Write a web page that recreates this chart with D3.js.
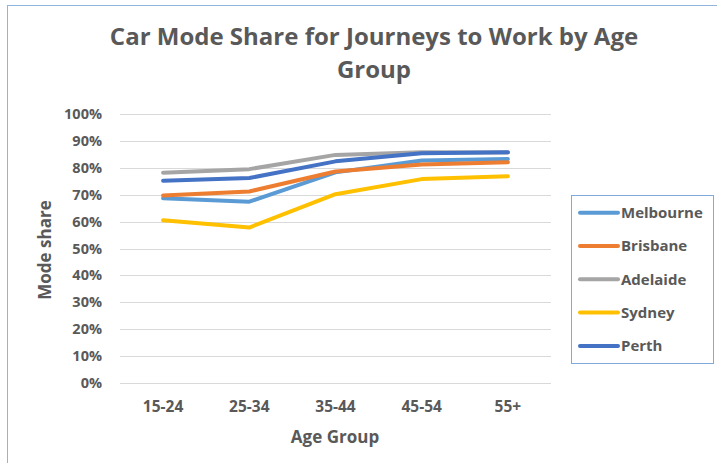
<!DOCTYPE html>
<html>
<head>
<meta charset="utf-8">
<script src="https://cdn.jsdelivr.net/npm/d3@7"></script>
<style>
  body { margin: 0; background: #fff; }
  text { font-family: 'Open Sans', sans-serif; font-weight: bold; fill: #595959; }
</style>
</head>
<body>
<script>
  const ageGroups = ['15-24', '25-34', '35-44', '45-54', '55+'];
  const cities = ['Melbourne', 'Brisbane', 'Adelaide', 'Sydney', 'Perth'];
  const melbourne = [0.687, 0.674, 0.783, 0.827, 0.833];
  const brisbane = [0.697, 0.712, 0.786, 0.812, 0.821];
  const adelaide = [0.782, 0.795, 0.848, 0.858, 0.857];
  const sydney = [0.605, 0.578, 0.702, 0.758, 0.769];
  const perth = [0.752, 0.762, 0.824, 0.854, 0.858];
  const yTicks = [0, 0.1, 0.2, 0.3, 0.4, 0.5, 0.6, 0.7, 0.8, 0.9, 1];
  const colors = ['#5B9BD5', '#ED7D31', '#A5A5A5', '#FFC000', '#4472C4'];

  const series = cities.map((name, i) => ({
    name,
    color: colors[i],
    values: [melbourne, brisbane, adelaide, sydney, perth][i],
  }));

  const width = 717;
  const height = 463;
  const margin = { top: 114, right: 166, bottom: 80, left: 120 };

  const svg = d3.select('body')
    .append('svg')
    .attr('width', width)
    .attr('height', height);

  // chart area border
  svg.append('rect')
    .attr('x', 7.5).attr('y', 5.5)
    .attr('width', width + 10).attr('height', height + 10)
    .attr('fill', 'none')
    .attr('stroke', '#8FB4DE');

  const x = d3.scaleBand()
    .domain(ageGroups)
    .range([margin.left, width - margin.right]);

  const y = d3.scaleLinear()
    .domain([0, 1])
    .range([height - margin.bottom, margin.top]);

  // gridlines
  svg.append('g')
    .selectAll('line')
    .data(yTicks)
    .join('line')
    .attr('x1', margin.left)
    .attr('x2', width - margin.right)
    .attr('y1', (d) => Math.round(y(d)) + 0.5)
    .attr('y2', (d) => Math.round(y(d)) + 0.5)
    .attr('stroke', '#d9d9d9')
    .attr('stroke-width', 1);

  // y tick labels
  svg.append('g')
    .selectAll('text')
    .data(yTicks)
    .join('text')
    .attr('x', 102)
    .attr('y', (d) => y(d))
    .attr('dy', '0.35em')
    .attr('text-anchor', 'end')
    .attr('font-size', 14.5)
    .text(d3.format('.0%'));

  // x tick labels
  svg.append('g')
    .selectAll('text')
    .data(ageGroups)
    .join('text')
    .attr('x', (d) => x(d) + x.bandwidth() / 2)
    .attr('y', 407)
    .attr('dy', '0.35em')
    .attr('text-anchor', 'middle')
    .attr('font-size', 15.5)
    .text((d) => d);

  const line = d3.line()
    .x((d, i) => x(ageGroups[i]) + x.bandwidth() / 2)
    .y((d) => y(d));

  svg.append('g')
    .selectAll('path')
    .data(series)
    .join('path')
    .attr('d', (d) => line(d.values))
    .attr('fill', 'none')
    .attr('stroke', (d) => d.color)
    .attr('stroke-width', 4)
    .attr('stroke-linecap', 'round')
    .attr('stroke-linejoin', 'round');

  // titles
  const title = svg.append('text')
    .attr('x', 374)
    .attr('text-anchor', 'middle')
    .attr('font-size', 24);
  title.append('tspan').attr('x', 374).attr('y', 45).text('Car Mode Share for Journeys to Work by Age');
  title.append('tspan').attr('x', 374).attr('y', 78).text('Group');

  svg.append('text')
    .attr('x', 335)
    .attr('y', 437)
    .attr('dy', '0.35em')
    .attr('text-anchor', 'middle')
    .attr('font-size', 17)
    .text('Age Group');

  svg.append('text')
    .attr('transform', 'translate(45,250) rotate(-90)')
    .attr('dy', '0.35em')
    .attr('text-anchor', 'middle')
    .attr('font-size', 17)
    .text('Mode share');

  // legend
  const legend = svg.append('g');
  legend.append('rect')
    .attr('x', 571.5).attr('y', 195.5)
    .attr('width', 142).attr('height', 168)
    .attr('fill', '#fff')
    .attr('stroke', '#7FAADB');

  const item = legend.selectAll('g')
    .data(series)
    .join('g')
    .attr('transform', (d, i) => `translate(0, ${212.7 + i * 33.3})`);

  item.append('line')
    .attr('x1', 580).attr('x2', 618)
    .attr('stroke', (d) => d.color)
    .attr('stroke-width', 4)
    .attr('stroke-linecap', 'round');

  item.append('text')
    .attr('x', 621)
    .attr('dy', '0.35em')
    .attr('font-size', 15)
    .text((d) => d.name);
</script>
</body>
</html>
